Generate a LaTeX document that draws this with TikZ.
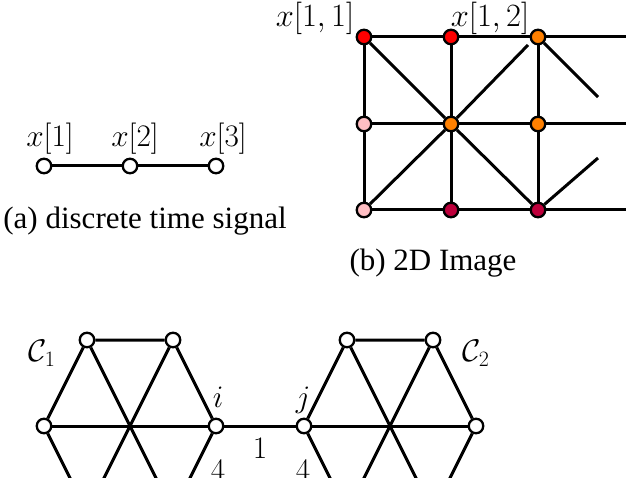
\RequirePackage{fix-cm}
\documentclass[tikz,border=0pt]{standalone}
\usepackage{graphicx}
\usepackage[no-math]{fontspec}
\setmainfont{Liberation Serif}
\definecolor{cRed}{RGB}{255,0,0}
\definecolor{cOrange}{RGB}{255,128,0}
\definecolor{cPink}{RGB}{255,190,195}
\definecolor{cCrimson}{RGB}{190,0,60}
\newcommand{\mlab}[1]{\scalebox{1.16}{$#1$}}
\tikzset{
  vtx/.style={circle,draw,line width=2.3pt,minimum size=14.5pt,inner sep=0pt,fill=white},
  edge/.style={line width=3pt},
  lab/.style={inner sep=0pt,font=\fontsize{27}{30}\selectfont},
  glab/.style={inner sep=0pt,font=\fontsize{28}{30}\selectfont},
  captext/.style={inner sep=0pt,font=\fontsize{31}{34}\selectfont},
}
\begin{document}
\begin{tikzpicture}[x=1pt,y=-1pt]
\clip (0,0) rectangle (626,478);
% (a) discrete time signal
\node[vtx] (a1) at (44,166) {};
\node[vtx] (a2) at (130,166) {};
\node[vtx] (a3) at (216,166) {};
\draw[edge] (a1) -- (a2) -- (a3);
\node[lab] (la1) at (50,139) {\mlab{x[1]}};
\node[lab] (la2) at (135,139) {\mlab{x[2]}};
\node[lab] (la3) at (223,139) {\mlab{x[3]}};
\node[captext] (capa) at (145,221) {(a) discrete time signal};
% (b) 2D image
\node[vtx,fill=cRed] (g11) at (364,37) {};
\node[vtx,fill=cRed] (g12) at (451,37) {};
\node[vtx,fill=cOrange] (g13) at (538,37) {};
\node[vtx,fill=cPink] (g21) at (364,124) {};
\node[vtx,fill=cOrange] (g22) at (451,124) {};
\node[vtx,fill=cOrange] (g23) at (538,124) {};
\node[vtx,fill=cPink] (g31) at (364,210) {};
\node[vtx,fill=cCrimson] (g32) at (451,210) {};
\node[vtx,fill=cCrimson] (g33) at (538,210) {};
\coordinate (e1) at (627,37);
\coordinate (e2) at (627,124);
\coordinate (e3) at (627,210);
\coordinate (s1) at (598,97);
\coordinate (s2) at (598,158);
\coordinate (d1) at (528,45);
\draw[edge] (g11) -- (g12) -- (g13) -- (e1);
\draw[edge] (g21) -- (g22) -- (g23) -- (e2);
\draw[edge] (g31) -- (g32) -- (g33) -- (e3);
\draw[edge] (g11) -- (g21) -- (g31);
\draw[edge] (g12) -- (g22) -- (g32);
\draw[edge] (g13) -- (g23) -- (g33);
\draw[edge] (g11) -- (g22) -- (g33);
\draw[edge] (g31) -- (g22) -- (d1);
\draw[edge] (g13) -- (s1);
\draw[edge] (g33) -- (s2);
\node[glab] (lg11) at (315,18) {\mlab{x[1,1]}};
\node[glab] (lg12) at (490,18) {\mlab{x[1,2]}};
\node[captext] (capb) at (433,263) {(b) 2D Image};
% bottom: two clusters
\node[vtx] (pL) at (44,426) {};
\node[vtx] (pi) at (216,426) {};
\node[vtx] (pTL) at (87,340) {};
\node[vtx] (pTR) at (173,340) {};
\node[vtx] (pBL) at (87,512) {};
\node[vtx] (pBR) at (173,512) {};
\node[vtx] (qj) at (304,426) {};
\node[vtx] (qTL) at (347,340) {};
\node[vtx] (qTR) at (433,340) {};
\node[vtx] (qR) at (476,426) {};
\node[vtx] (qBL) at (347,512) {};
\node[vtx] (qBR) at (433,512) {};
\draw[edge] (pTL) -- (pTR) -- (pi) -- (pBR) -- (pBL) -- (pL) -- (pTL);
\draw[edge] (pL) -- (pi);
\draw[edge] (pTL) -- (pBR);
\draw[edge] (pTR) -- (pBL);
\draw[edge] (qTL) -- (qTR) -- (qR) -- (qBR) -- (qBL) -- (qj) -- (qTL);
\draw[edge] (qj) -- (qR);
\draw[edge] (qTL) -- (qBR);
\draw[edge] (qTR) -- (qBL);
\draw[edge] (pi) -- (qj);
\node[lab] (li) at (218,397) {\mlab{i}};
\node[lab] (lj) at (303,400) {\mlab{j}};
\node[lab] (l1) at (260,448) {\mlab{1}};
\node[lab] (l4a) at (218,470) {\mlab{4}};
\node[lab] (l4b) at (303,470) {\mlab{4}};
\node[lab] (lC1) at (42,353) {\mlab{\mathcal{C}_1}};
\node[lab] (lC2) at (476,353) {\mlab{\mathcal{C}_2}};
\end{tikzpicture}
\end{document}
